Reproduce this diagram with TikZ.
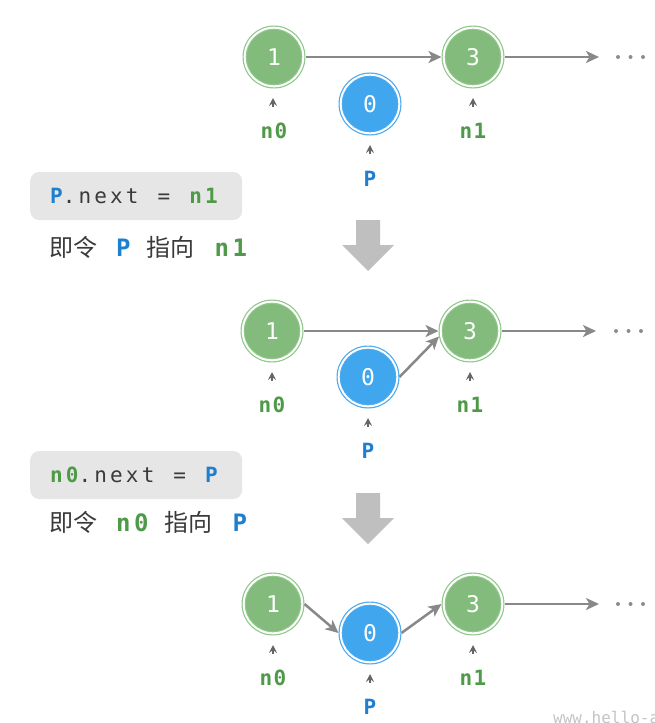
\documentclass[tikz,border=0pt]{standalone}
\usepackage{fontspec}
\usetikzlibrary{arrows.meta}
\newfontfamily\cjkfont{Noto Sans CJK SC}
\newfontfamily\codefont[LetterSpace=15]{DejaVu Sans Mono}
\newfontfamily\labfont[LetterSpace=6]{DejaVu Sans Mono}
\newfontfamily\numfont{DejaVu Sans Mono}
\definecolor{gfill}{HTML}{82BB7B}
\definecolor{gline}{HTML}{8FC78A}
\definecolor{bfill}{HTML}{40A6ED}
\definecolor{bline}{HTML}{4BA9EF}
\definecolor{linkgray}{HTML}{888888}
\definecolor{ptrgray}{HTML}{666666}
\definecolor{labgreen}{HTML}{4E9A48}
\definecolor{labblue}{HTML}{1F7FCF}
\definecolor{txtgray}{HTML}{3A3A3A}
\definecolor{boxgray}{HTML}{E6E6E6}
\definecolor{bigarrow}{HTML}{BFBFBF}
\definecolor{dotgray}{HTML}{8C8C8C}
\definecolor{wmgray}{HTML}{C4C4C4}
\tikzset{
  listnode/.style={circle, minimum size=58.6pt, inner sep=0pt, outer sep=2.2pt,
    line width=1.2pt, double=white, double distance=2pt, text=white,
    font=\numfont\fontsize{23}{26}\selectfont},
  gnode/.style={listnode, fill=gfill, draw=gline},
  bnode/.style={listnode, fill=bfill, draw=bline},
  link/.style={draw=linkgray, line width=2.5pt, -{Stealth[length=13pt,width=12pt,inset=3.5pt]}},
  ptr/.style={draw=ptrgray, line width=1.6pt, -{Stealth[length=8pt,width=8pt,inset=3pt]}},
  lab/.style={inner sep=0pt, font=\labfont\bfseries\fontsize{21}{24}\selectfont},
  glab/.style={lab, text=labgreen},
  blab/.style={lab, text=labblue},
  codebox/.style={fill=boxgray, rounded corners=9pt, anchor=west, minimum height=48pt,
    text width=172pt, inner xsep=20pt, inner ysep=0pt, text=txtgray,
    font=\codefont\fontsize{21}{25}\selectfont},
  cjkline/.style={anchor=west, inner sep=0pt, text=txtgray, font=\cjkfont\fontsize{24}{28}\selectfont},
  dotmark/.style={circle, fill=dotgray, inner sep=0pt, minimum size=4pt},
}
\newcommand{\cg}[1]{{\codefont\bfseries\color{labgreen}#1}}
\newcommand{\cb}[1]{{\codefont\bfseries\color{labblue}#1}}
\newcommand{\csp}{\hspace{19pt}}
\begin{document}
\begin{tikzpicture}[x=1pt,y=-1pt]
\useasboundingbox (0,0) rectangle (655,723);

% ---------- top row ----------
\node[gnode] (t1) at (274,57) {1};
\node[gnode] (t3) at (473,57) {3};
\node[bnode] (t0) at (370,104) {0};
\coordinate (tend) at (599,57);
\draw[link] (t1.east) -- (t3.west);
\draw[link] (t3.east) -- (tend);
\node[dotmark] (td1) at (618,57) {};
\node[dotmark] (td2) at (630.5,57) {};
\node[dotmark] (td3) at (643,57) {};
\node[glab] (tl0) at (274,131) {n0};
\node[glab] (tl1) at (473,131) {n1};
\node[blab] (tlp) at (370,179) {P};
\coordinate (tc0) at (273,107);
\coordinate (tc1) at (473,107);
\coordinate (tcp) at (370,154);
\draw[ptr] (tc0) -- ++(0,-9);
\draw[ptr] (tc1) -- ++(0,-9);
\draw[ptr] (tcp) -- ++(0,-9);

% ---------- step 1 text ----------
\node[codebox] (box1) at (30,196) {\cb{P}.next\csp=\csp\cg{n1}};
\node[cjkline] (txt1) at (49,247) {即令\hspace{19pt}\cb{P}\hspace{16pt}指向\hspace{20pt}\cg{n1}};
\fill[bigarrow] (356,220) -- (380,220) -- (380,245) -- (394,245) -- (368,271) -- (342,245) -- (356,245) -- cycle;

% ---------- middle row ----------
\node[gnode] (m1) at (272,331) {1};
\node[gnode] (m3) at (470,331) {3};
\node[bnode] (m0) at (368,377) {0};
\coordinate (mend) at (596,331);
\draw[link] (m1.east) -- (m3.west);
\draw[link] (m0.east) -- (m3.190);
\draw[link] (m3.east) -- (mend);
\node[dotmark] (md1) at (616,331) {};
\node[dotmark] (md2) at (628.5,331) {};
\node[dotmark] (md3) at (641,331) {};
\node[glab] (ml0) at (272,405) {n0};
\node[glab] (ml1) at (470,405) {n1};
\node[blab] (mlp) at (368,451) {P};
\coordinate (mc0) at (272,381);
\coordinate (mc1) at (470,381);
\coordinate (mcp) at (368,427);
\draw[ptr] (mc0) -- ++(0,-9);
\draw[ptr] (mc1) -- ++(0,-9);
\draw[ptr] (mcp) -- ++(0,-9);

% ---------- step 2 text ----------
\node[codebox] (box2) at (30,475) {\cg{n0}.next\csp=\csp\cb{P}};
\node[cjkline] (txt2) at (49,522) {即令\hspace{19pt}\cg{n0}\hspace{16pt}指向\hspace{20pt}\cb{P}};
\fill[bigarrow] (356,493) -- (380,493) -- (380,518) -- (394,518) -- (368,544) -- (342,518) -- (356,518) -- cycle;

% ---------- bottom row ----------
\node[gnode] (b1) at (273,604) {1};
\node[bnode] (b0) at (370,633) {0};
\node[gnode] (b3) at (473,604) {3};
\coordinate (bend) at (599,604);
\draw[link] (b1.east) -- (b0.west);
\draw[link] (b0.east) -- (b3.west);
\draw[link] (b3.east) -- (bend);
\node[dotmark] (bd1) at (618,604) {};
\node[dotmark] (bd2) at (630.5,604) {};
\node[dotmark] (bd3) at (643,604) {};
\node[glab] (bl0) at (273,678) {n0};
\node[glab] (bl1) at (473,678) {n1};
\node[blab] (blp) at (370,707) {P};
\coordinate (bc0) at (273,654);
\coordinate (bc1) at (473,654);
\coordinate (bcp) at (370,683);
\draw[ptr] (bc0) -- ++(0,-9);
\draw[ptr] (bc1) -- ++(0,-9);
\draw[ptr] (bcp) -- ++(0,-9);

% ---------- watermark ----------
\node[anchor=base west, inner sep=0pt, text=wmgray, font=\numfont\fontsize{16}{18}\selectfont] (wm) at (553,723) {www.hello-algo.com};
\end{tikzpicture}
\end{document}
